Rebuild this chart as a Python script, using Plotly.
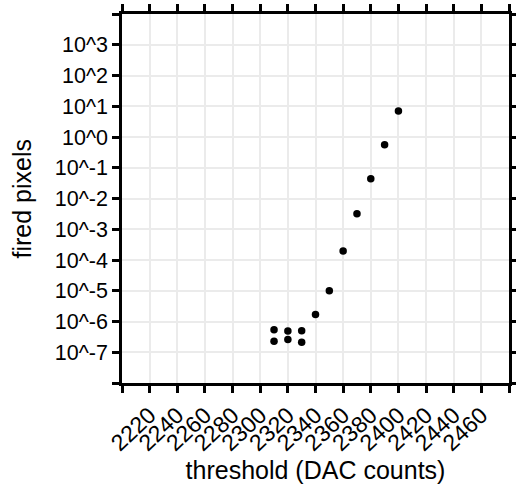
import plotly.graph_objects as go

# Threshold scan: mean number of fired pixels per threshold setting
threshold = [2310, 2310, 2320, 2320, 2330, 2330, 2340, 2350, 2360, 2370, 2380, 2390, 2400]
fired = [5.4e-7, 2.3e-7, 4.9e-7, 2.6e-7, 5.0e-7, 2.1e-7, 1.7e-6, 1.0e-5,
         1.96e-4, 3.2e-3, 4.4e-2, 0.56, 7.0]

x_ticks = list(range(2200, 2481, 20))
x_labels = ["" if v in (2200, 2480) else str(v) for v in x_ticks]
y_exps = list(range(-8, 5))
y_ticks = [10.0 ** e for e in y_exps]
y_labels = ["" if e in (-8, 4) else f"10^{e}" for e in y_exps]

FONT = "Liberation Sans, Arial, Helvetica, sans-serif"
W, H = 516, 484
ML, MR, MT, MB = 122, 7, 14, 101

fig = go.Figure(
    go.Scatter(
        x=threshold, y=fired, mode="markers",
        marker=dict(color="black", size=7.5),
        showlegend=False,
    )
)

axis_common = dict(
    showline=True, linecolor="black", linewidth=2.5, mirror="ticks",
    ticks="outside", ticklen=7, tickwidth=2.5, tickcolor="black",
    showgrid=True, gridcolor="#ebebeb", gridwidth=2,
    zeroline=False,
)

fig.update_xaxes(
    range=[2200, 2480], tickmode="array", tickvals=x_ticks, ticktext=x_labels,
    tickangle=-43,
    tickfont=dict(family=FONT, size=23, color="black"),
    title=dict(text="threshold (DAC counts)", font=dict(family=FONT, size=25, color="black"),
               standoff=9),
    **axis_common,
)
fig.update_yaxes(
    type="log", range=[-8, 4], tickmode="array", tickvals=y_ticks, ticktext=y_labels,
    tickfont=dict(family=FONT, size=21.5, color="black"),
    **axis_common,
)

# y-axis title placed as a rotated annotation left of the tick labels
plot_w = W - ML - MR
fig.add_annotation(
    text="fired pixels", xref="paper", yref="paper",
    x=-(ML - 21) / plot_w, y=0.5, xanchor="center", yanchor="middle",
    textangle=-90, showarrow=False,
    font=dict(family=FONT, size=25, color="black"),
)

fig.update_layout(
    width=W, height=H,
    margin=dict(l=ML, r=MR, t=MT, b=MB, autoexpand=False),
    plot_bgcolor="white", paper_bgcolor="white",
    font=dict(family=FONT, color="black"),
)

fig.write_html("out.html")
